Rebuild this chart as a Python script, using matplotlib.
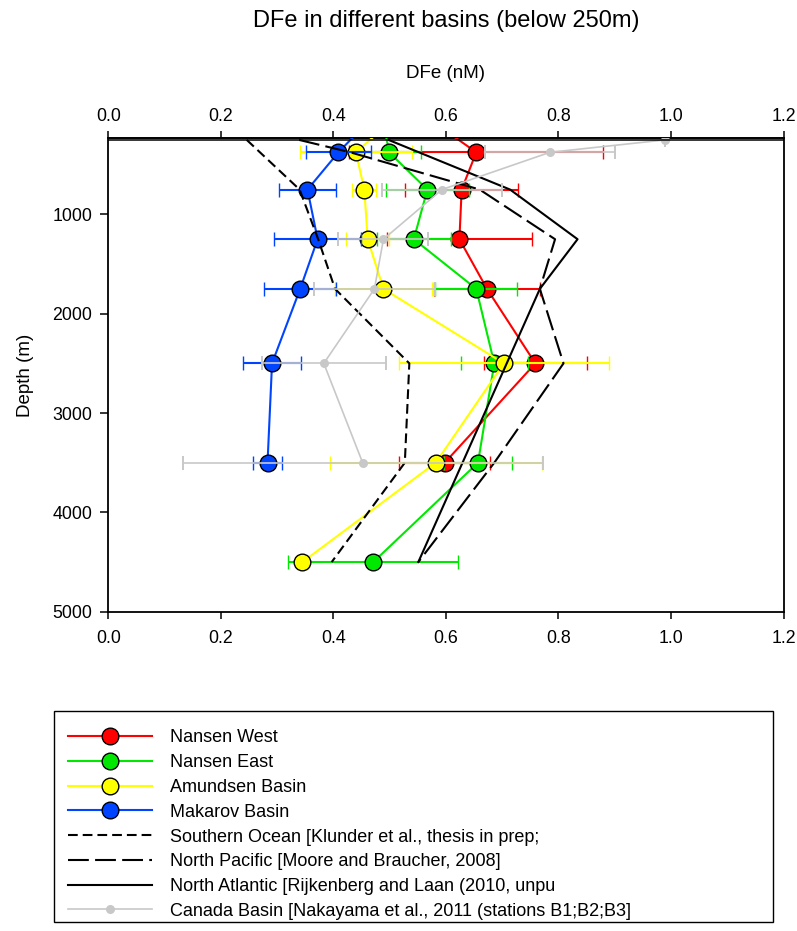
import matplotlib
matplotlib.use('Agg')
import matplotlib.pyplot as plt
from matplotlib.lines import Line2D
from matplotlib.patches import Rectangle

plt.rcParams['font.family'] = ['Liberation Sans', 'DejaVu Sans']
plt.rcParams['lines.scale_dashes'] = False

# Nansen West
depth_nw = [100, 375, 750, 1250, 1750, 2500, 3500]
dfe_nw = [0.585, 0.654, 0.628, 0.624, 0.673, 0.759, 0.598]
err_nw = [0, 0.226, 0.100, 0.129, 0.094, 0.092, 0.081]

# Nansen East
depth_ne = [100, 375, 750, 1250, 1750, 2500, 3500, 4500]
dfe_ne = [0.49, 0.499, 0.567, 0.543, 0.654, 0.686, 0.657, 0.471]
err_ne = [0, 0.057, 0.074, 0.066, 0.073, 0.060, 0.061, 0.151]

# Amundsen Basin
depth_ab = [100, 375, 750, 1250, 1750, 2500, 3500, 4500]
dfe_ab = [0.495, 0.440, 0.455, 0.461, 0.489, 0.703, 0.582, 0.345]
err_ab = [0, 0.100, 0.021, 0.038, 0.086, 0.187, 0.188, 0.01]

# Makarov Basin
depth_mb = [100, 375, 750, 1250, 1750, 2500, 3500]
dfe_mb = [0.456, 0.409, 0.354, 0.372, 0.341, 0.291, 0.283]
err_mb = [0, 0.057, 0.050, 0.077, 0.064, 0.052, 0.026]

# literature profiles
depth_so = [250, 750, 1250, 1750, 2500, 3500, 4500]
dfe_so = [0.246, 0.340, 0.373, 0.403, 0.535, 0.527, 0.397]

depth_np = [250, 375, 750, 1250, 1750, 2500, 3500, 4500]
dfe_np = [0.339, 0.43, 0.66, 0.794, 0.767, 0.809, 0.686, 0.551]

depth_na = [250, 750, 1250, 1750, 4500]
dfe_na = [0.498, 0.714, 0.834, 0.767, 0.551]

depth_cb = [250, 375, 750, 1250, 1750, 2500, 3500]
dfe_cb = [0.99, 0.785, 0.593, 0.489, 0.473, 0.383, 0.452]
err_cb = [0, 0.115, 0.106, 0.08, 0.108, 0.11, 0.32]

labels = ['Nansen West', 'Nansen East', 'Amundsen Basin', 'Makarov Basin',
          'Southern Ocean [Klunder et al., thesis in prep;',
          'North Pacific [Moore and Braucher, 2008]',
          'North Atlantic [Rijkenberg and Laan (2010, unpu',
          'Canada Basin [Nakayama et al., 2011 (stations B1;B2;B3]']

RED = '#ff0000'
GREEN = '#00e800'
YELLOW = '#ffff00'
BLUE = '#0044ff'
GREY = '#c8c8c8'
SO_DASH = (0, (7, 3.6))
NP_DASH = (0, (15, 4.5))

W, H = 797, 931


def basin(ax, x, y, err, color, z):
    ax.errorbar(x, y, xerr=err, fmt='-o', color=color, lw=1.5, ms=12,
                mfc=color, mec='black', mew=1, ecolor=color, elinewidth=1.5,
                capsize=4.8, capthick=2.0, zorder=z)


def setup_axes(fig):
    ax = fig.add_axes([108.3 / W, 1 - 611.7 / H, 675.2 / W, 474 / H])
    ax.set_xlim(0, 1.2)
    ax.set_ylim(5000, 228)
    ax.set_xticks([0, 0.2, 0.4, 0.6, 0.8, 1.0, 1.2])
    ax.set_yticks([1000, 2000, 3000, 4000, 5000])
    ax.xaxis.set_major_formatter(matplotlib.ticker.FormatStrFormatter('%.1f'))
    ax.tick_params(axis='x', direction='out', length=5, width=1.1,
                   labelsize=12.8, pad=8)
    ax.tick_params(axis='y', direction='out', length=5.5, width=1.1,
                   labelsize=12.8, pad=6)
    for s in ax.spines.values():
        s.set_linewidth(1.3)
    top = ax.secondary_xaxis('top')
    top.set_xticks([0, 0.2, 0.4, 0.6, 0.8, 1.0, 1.2])
    top.xaxis.set_major_formatter(matplotlib.ticker.FormatStrFormatter('%.1f'))
    top.tick_params(direction='out', length=5, width=1.1, labelsize=12.8, pad=4)
    top.spines['top'].set_linewidth(1.1)
    ax.axhline(250, color='black', lw=1.1, zorder=20)
    return ax


def plot_data(ax):
    basin(ax, dfe_nw, depth_nw, err_nw, RED, 3)
    basin(ax, dfe_ne, depth_ne, err_ne, GREEN, 4)
    basin(ax, dfe_ab, depth_ab, err_ab, YELLOW, 5)
    basin(ax, dfe_mb, depth_mb, err_mb, BLUE, 6)
    ax.plot(dfe_so, depth_so, color='black', lw=1.5, linestyle=SO_DASH, zorder=7)
    ax.plot(dfe_np, depth_np, color='black', lw=1.5, linestyle=NP_DASH, zorder=7)
    ax.plot(dfe_na, depth_na, color='black', lw=1.5, zorder=7)
    ax.errorbar(dfe_cb, depth_cb, xerr=err_cb, fmt='-o', color=GREY, lw=1.2,
                ms=5.5, ecolor=GREY, elinewidth=1.2, capsize=5, capthick=1.4,
                zorder=8)


def plot_legend(fig):
    handles = []
    for c in [RED, GREEN, YELLOW, BLUE]:
        handles.append(Line2D([], [], color=c, lw=1.5, marker='o', ms=12,
                              mfc=c, mec='black', mew=1))
    handles.append(Line2D([], [], color='black', lw=1.5, linestyle=SO_DASH))
    handles.append(Line2D([], [], color='black', lw=1.5, linestyle=NP_DASH))
    handles.append(Line2D([], [], color='black', lw=1.5))
    handles.append(Line2D([], [], color=GREY, lw=1.2, marker='o', ms=5.5))
    fig.legend(handles, labels, loc='upper left',
               bbox_to_anchor=(54 / W, 1 - 715 / H, 719 / W, 0),
               mode='expand', borderaxespad=0, fontsize=13,
               handlelength=4.6, handletextpad=1.05, labelspacing=0.43,
               borderpad=0.8, frameon=False)
    # legend box
    fig.patches.append(Rectangle((54 / W, 1 - 922 / H), 719 / W, 211 / H,
                                 transform=fig.transFigure, fill=False,
                                 edgecolor='black', lw=1.0))


def name_axis(fig):
    fig.text(446 / W, 1 - 21 / H, 'DFe in different basins (below 250m)',
             ha='center', va='center', fontsize=17)
    fig.text(446 / W, 1 - 73 / H, 'DFe (nM)', ha='center', va='center',
             fontsize=13.5)
    fig.text(25 / W, 1 - 375 / H, 'Depth (m)', ha='center', va='center',
             rotation=90, fontsize=13.5)


def main():
    fig = plt.figure(figsize=(W / 100, H / 100), dpi=100)
    ax = setup_axes(fig)
    plot_data(ax)
    plot_legend(fig)
    name_axis(fig)
    fig.savefig('out.png', dpi=100)


if __name__ == "__main__":
    main()
